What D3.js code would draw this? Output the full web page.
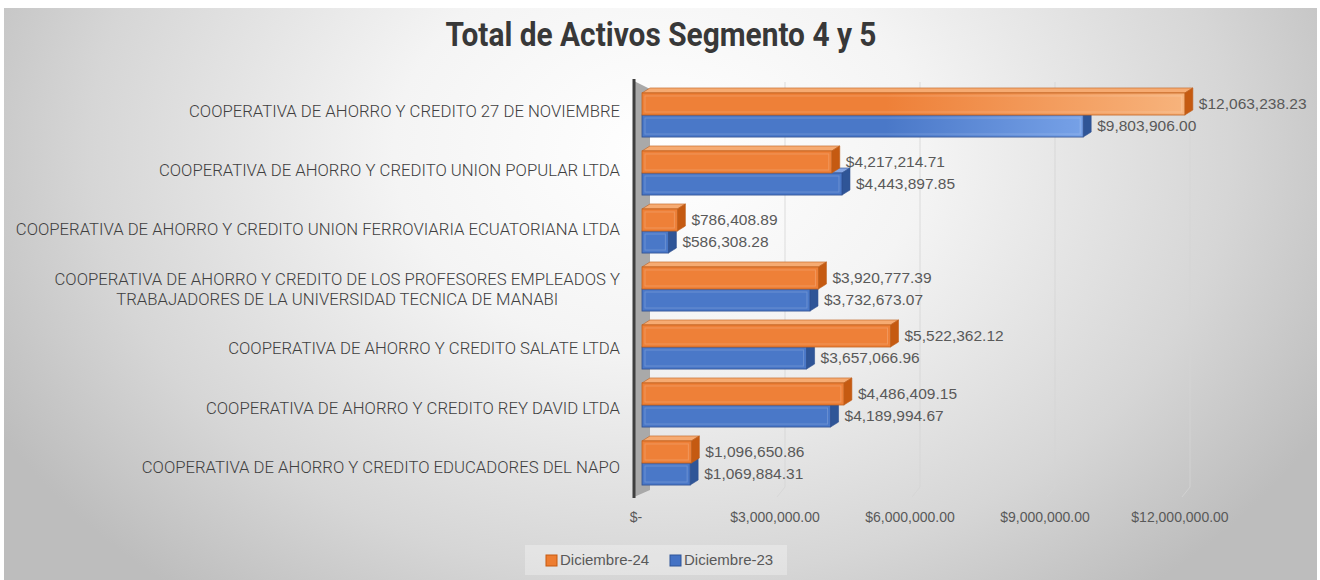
<!DOCTYPE html>
<html><head><meta charset="utf-8">
<script src="https://cdn.jsdelivr.net/npm/d3@7"></script>
<style>html,body{margin:0;padding:0;background:#fff;}svg{display:block;}</style>
</head><body>
<svg id="chart" width="1320" height="580"></svg>
<script>
const title = "Total de Activos Segmento 4 y 5";
const categories = [
  "COOPERATIVA DE AHORRO Y CREDITO 27 DE NOVIEMBRE",
  "COOPERATIVA DE AHORRO Y CREDITO UNION POPULAR LTDA",
  "COOPERATIVA DE AHORRO Y CREDITO UNION FERROVIARIA ECUATORIANA LTDA",
  "COOPERATIVA DE AHORRO Y CREDITO DE LOS PROFESORES EMPLEADOS Y\nTRABAJADORES DE LA UNIVERSIDAD TECNICA DE MANABI",
  "COOPERATIVA DE AHORRO Y CREDITO SALATE LTDA",
  "COOPERATIVA DE AHORRO Y CREDITO REY DAVID LTDA",
  "COOPERATIVA DE AHORRO Y CREDITO EDUCADORES DEL NAPO"
];
const seriesNames = ["Diciembre-24", "Diciembre-23"];
const dic24 = [12063238.23, 4217214.71, 786408.89, 3920777.39, 5522362.12, 4486409.15, 1096650.86];
const dic23 = [9803906.00, 4443897.85, 586308.28, 3732673.07, 3657066.96, 4189994.67, 1069884.31];
const tickValues = [0, 3000000, 6000000, 9000000, 12000000];
const tickLabels = ["$-", "$3,000,000.00", "$6,000,000.00", "$9,000,000.00", "$12,000,000.00"];

const svg = d3.select("#chart");
const defs = svg.append("defs");
const DX = 8, DY = 5;

// background
const bg = defs.append("radialGradient").attr("id","bg")
  .attr("gradientUnits","userSpaceOnUse").attr("cx",660).attr("cy",150).attr("r",760)
  .attr("gradientTransform","translate(660,150) scale(1,0.75) translate(-660,-150)");
bg.append("stop").attr("offset","0").attr("stop-color","#ffffff");
bg.append("stop").attr("offset","0.35").attr("stop-color","#f4f4f4");
bg.append("stop").attr("offset","0.75").attr("stop-color","#d6d6d6");
bg.append("stop").attr("offset","1").attr("stop-color","#bdbdbd");
svg.append("rect").attr("x",4).attr("y",8).attr("width",1313).attr("height",572).attr("fill","url(#bg)");

const x = d3.scaleLinear().domain([0, 12000000]).range([642, 1182]);
const y = d3.scaleBand().domain(d3.range(categories.length)).range([86, 492]).paddingInner(0.24).paddingOuter(0.12);
const yLab = d3.scaleBand().domain(d3.range(categories.length)).range([82.5, 498.5]);
const bh = y.bandwidth() / 2;

function frontGrad(id, c0, c1){
  const g = defs.append("linearGradient").attr("id",id).attr("gradientUnits","userSpaceOnUse")
    .attr("x1",x(0)).attr("x2",x(12063238)).attr("y1",0).attr("y2",0);
  g.append("stop").attr("offset","0").attr("stop-color",c0);
  g.append("stop").attr("offset","0.45").attr("stop-color",c0);
  g.append("stop").attr("offset","1").attr("stop-color",c1);
}
frontGrad("gOr","#ee8038","#f7b37c");
frontGrad("gBl","#4a78c8","#8db6f7");

// gridlines on back wall and floor
const grid = svg.append("g");
tickValues.slice(1).forEach(v=>{
  grid.append("path").attr("d",`M${x(v)+DX},82 L${x(v)+DX},${492-DY} L${x(v)},497`)
    .attr("fill","none").attr("stroke","#d4d4d4").attr("stroke-width",1).attr("opacity",0.8);
});

// side wall
svg.append("path").attr("d",`M634,81 L650,89 L650,490 L634,497 Z`).attr("fill","#a9a9a9");
svg.append("line").attr("x1",634).attr("x2",634).attr("y1",79).attr("y2",498).attr("stroke","#3f3f3f").attr("stroke-width",3);

// bars
const seriesDefs = [
  {vals: dic23, off: 1, front:"url(#gBl)", top:"#86a6e3", side:"#2f5597", edge:"#2e4f8f"},
  {vals: dic24, off: 0, front:"url(#gOr)", top:"#f6ab72", side:"#c55a11", edge:"#c0601c"}
];
const barsG = svg.append("g");
seriesDefs.forEach(s=>{
  s.vals.forEach((v,i)=>{
    const x0 = x(0), x1 = x(v), y0 = y(i) + s.off*bh, y1 = y0 + bh;
    const g = barsG.append("g");
    g.append("path").attr("d",`M${x0},${y0} L${x0+DX},${y0-DY} L${x1+DX},${y0-DY} L${x1},${y0} Z`)
      .attr("fill",s.top).attr("stroke",s.edge).attr("stroke-width",0.6);
    g.append("path").attr("d",`M${x1},${y0} L${x1+DX},${y0-DY} L${x1+DX},${y1-DY} L${x1},${y1} Z`)
      .attr("fill",s.side).attr("stroke",s.edge).attr("stroke-width",0.6);
    g.append("rect").attr("x",x0).attr("y",y0).attr("width",x1-x0).attr("height",bh)
      .attr("fill",s.front).attr("stroke",s.edge).attr("stroke-width",0.8);
    g.append("rect").attr("x",x0+3).attr("y",y0+3).attr("width",Math.max(0,x1-x0-6)).attr("height",bh-6)
      .attr("fill","none").attr("stroke","#ffffff").attr("stroke-opacity",0.18).attr("stroke-width",1);
  });
});

// data labels
const fmt = d3.format(",.2f");
const lab = svg.append("g").attr("font-family","'Liberation Sans', Arial, sans-serif").attr("font-size",15.5).attr("fill","#595959");
[dic24, dic23].forEach((vals, si)=>{
  vals.forEach((v,i)=>{
    lab.append("text").attr("x", x(v) + DX + 6).attr("y", y(i) + si*bh + bh/2 + 1)
      .attr("dominant-baseline","middle").text("$" + fmt(v));
  });
});

// category labels
const cat = svg.append("g").attr("font-family","Roboto, sans-serif").attr("font-weight",300).attr("font-size",16.5).attr("fill","#404040");
const probe = cat.append("text").text(categories[0]);
const squeeze = 431 / probe.node().getComputedTextLength();
probe.remove();
categories.forEach((c,i)=>{
  const lines = c.split("\n");
  const cy = yLab(i) + yLab.bandwidth()/2;
  const widths = lines.map(l=>{ const t = cat.append("text").text(l); const w = t.node().getComputedTextLength()*squeeze; t.remove(); return w; });
  const bw = d3.max(widths);
  const right = 620;
  const lh = 20;
  lines.forEach((l,k)=>{
    const w = widths[k];
    const cxl = right - bw/2;
    cat.append("text").attr("x", cxl - w/2).attr("y", cy + (k - (lines.length-1)/2)*lh)
      .attr("dominant-baseline","middle").attr("textLength", w).attr("lengthAdjust","spacingAndGlyphs").text(l);
  });
});

// x tick labels
const tk = svg.append("g").attr("font-family","'Liberation Sans', Arial, sans-serif").attr("font-size",14).attr("fill","#595959");
tickValues.forEach((v,i)=>{
  tk.append("text").attr("x", i===0 ? x(v)-6 : x(v)-2).attr("y",518).attr("text-anchor","middle")
    .attr("dominant-baseline","middle").text(tickLabels[i]);
});

// title
svg.append("text").attr("x",661).attr("y",37).attr("text-anchor","middle").attr("dominant-baseline","middle")
  .attr("font-family","Roboto, sans-serif").attr("font-weight","bold").attr("font-size",34).attr("fill","#383838")
  .attr("textLength",431).attr("lengthAdjust","spacingAndGlyphs").text(title);

// legend
const lg = svg.append("g");
lg.append("rect").attr("x",525).attr("y",545).attr("width",262).attr("height",30).attr("fill","#ffffff").attr("fill-opacity",0.3);
const legCols = [{c:"#ed7d31", e:"#c55a11"}, {c:"#4472c4", e:"#2f5597"}];
const lgX = [546, 670];
seriesNames.forEach((n,i)=>{
  lg.append("rect").attr("x",lgX[i]).attr("y",555).attr("width",11).attr("height",11)
    .attr("fill",legCols[i].c).attr("stroke",legCols[i].e).attr("stroke-width",1);
  lg.append("text").attr("x",lgX[i]+14).attr("y",561).attr("dominant-baseline","middle")
    .attr("font-family","'Liberation Sans', Arial, sans-serif").attr("font-size",15).attr("fill","#595959").text(n);
});
</script>
</body></html>
